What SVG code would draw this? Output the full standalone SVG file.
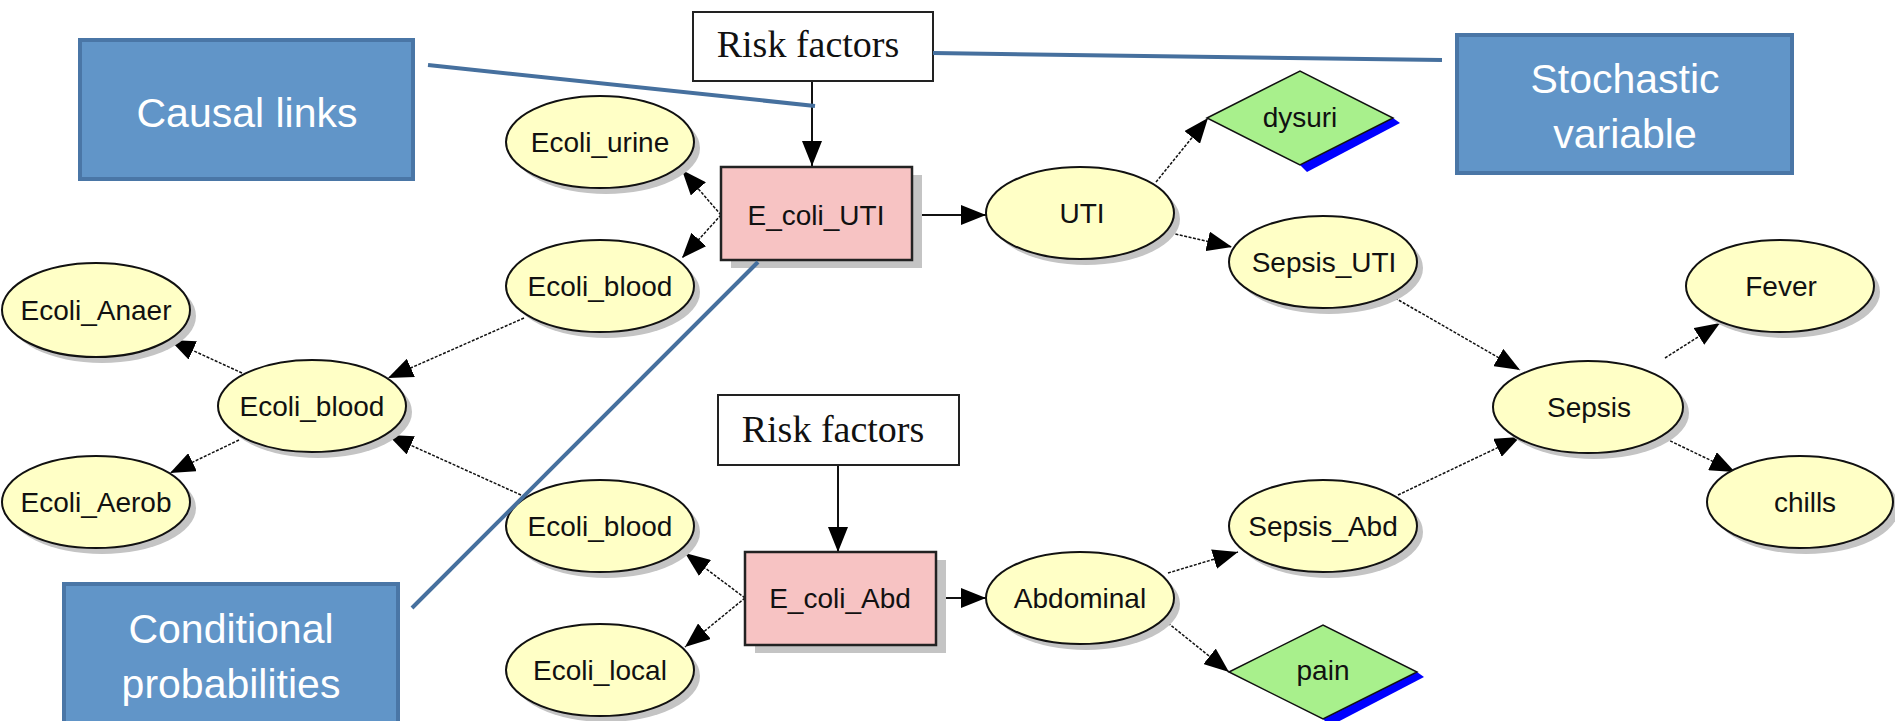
<svg xmlns="http://www.w3.org/2000/svg" width="1895" height="721" viewBox="0 0 1895 721">
<style>
.ell{fill:#ffffc6;stroke:#111;stroke-width:2}
.sh{fill:#c4c4c4}
.box{fill:#f7c3c3;stroke:#222;stroke-width:2.5}
.rf{fill:#fff;stroke:#222;stroke-width:2}
.dia{fill:#a8f08c;stroke:#111;stroke-width:1.5}
.blue{fill:#0000ff}
.lbl{font-family:"Liberation Sans",Arial,sans-serif;font-size:28px;fill:#111;text-anchor:middle}
.ser{font-family:"Liberation Serif","Times New Roman",serif;font-size:38px;fill:#111;text-anchor:middle}
.call{fill:#6195c8;stroke:#4a76a6;stroke-width:4}
.ct{font-family:"Liberation Sans",Arial,sans-serif;font-size:41px;fill:#fff;text-anchor:middle}
.con{fill:none;stroke:#111;stroke-width:1.5;stroke-dasharray:3 1.5;marker-end:url(#ah)}
.solid{fill:none;stroke:#111;stroke-width:2;marker-end:url(#ah)}
.cl{fill:none;stroke:#46709e;stroke-width:4}
</style>
<defs>
<marker id="ah" viewBox="0 0 25 20" refX="25" refY="10" markerWidth="25" markerHeight="20" markerUnits="userSpaceOnUse" orient="auto">
<path d="M0,0 L25,10 L0,20 z" fill="#000"/>
</marker>
</defs>
<rect width="1895" height="721" fill="#fff"/>

<g id="connectors">
<line class="solid" x1="812" y1="81" x2="812" y2="166"/>
<line class="solid" x1="838" y1="465" x2="838" y2="552"/>
<line class="con" x1="721" y1="215" x2="682" y2="170"/>
<line class="con" x1="721" y1="215" x2="682" y2="258"/>
<line class="solid" x1="912" y1="215" x2="986" y2="215"/>
<line class="con" x1="1156" y1="182" x2="1208" y2="118"/>
<line class="con" x1="1171" y1="233" x2="1232" y2="247"/>
<line class="con" x1="1395" y1="298" x2="1520" y2="370"/>
<line class="con" x1="1665" y1="358" x2="1720" y2="323"/>
<line class="con" x1="1662" y1="437" x2="1735" y2="472"/>
<line class="solid" x1="936" y1="598" x2="986" y2="598"/>
<line class="con" x1="1168" y1="573" x2="1238" y2="552"/>
<line class="con" x1="1168" y1="623" x2="1229" y2="672"/>
<line class="con" x1="1398" y1="495" x2="1520" y2="437"/>
<line class="con" x1="745" y1="598" x2="685" y2="553"/>
<line class="con" x1="745" y1="598" x2="685" y2="647"/>
<line class="con" x1="524" y1="318" x2="388" y2="378"/>
<line class="con" x1="521" y1="495" x2="388" y2="435"/>
<line class="con" x1="242" y1="373" x2="170" y2="340"/>
<line class="con" x1="239" y1="440" x2="170" y2="473"/>
</g>

<g id="risk1"><rect class="rf" x="693" y="12" width="240" height="69"/><text class="ser" x="808" y="57">Risk factors</text></g>
<g id="risk2"><rect class="rf" x="718" y="395" width="241" height="70"/><text class="ser" x="833" y="442">Risk factors</text></g>

<g id="E_coli_UTI"><rect class="sh" x="731" y="175" width="191" height="93"/><rect class="box" x="721" y="167" width="191" height="93"/><text class="lbl" x="816" y="225">E_coli_UTI</text></g>
<g id="E_coli_Abd"><rect class="sh" x="755" y="560" width="191" height="93"/><rect class="box" x="745" y="552" width="191" height="93"/><text class="lbl" x="840" y="608">E_coli_Abd</text></g>

<g id="Ecoli_urine"><ellipse class="sh" cx="606" cy="148" rx="94" ry="46"/><ellipse class="ell" cx="600" cy="142" rx="94" ry="46"/><text class="lbl" x="600" y="152">Ecoli_urine</text></g>
<g id="Ecoli_blood_1"><ellipse class="sh" cx="606" cy="292" rx="94" ry="46"/><ellipse class="ell" cx="600" cy="286" rx="94" ry="46"/><text class="lbl" x="600" y="296">Ecoli_blood</text></g>
<g id="Ecoli_Anaer"><ellipse class="sh" cx="102" cy="316" rx="94" ry="47"/><ellipse class="ell" cx="96" cy="310" rx="94" ry="47"/><text class="lbl" x="96" y="320">Ecoli_Anaer</text></g>
<g id="Ecoli_blood_2"><ellipse class="sh" cx="318" cy="412" rx="94" ry="46"/><ellipse class="ell" cx="312" cy="406" rx="94" ry="46"/><text class="lbl" x="312" y="416">Ecoli_blood</text></g>
<g id="Ecoli_Aerob"><ellipse class="sh" cx="102" cy="508" rx="94" ry="46"/><ellipse class="ell" cx="96" cy="502" rx="94" ry="46"/><text class="lbl" x="96" y="512">Ecoli_Aerob</text></g>
<g id="Ecoli_blood_3"><ellipse class="sh" cx="606" cy="532" rx="94" ry="46"/><ellipse class="ell" cx="600" cy="526" rx="94" ry="46"/><text class="lbl" x="600" y="536">Ecoli_blood</text></g>
<g id="Ecoli_local"><ellipse class="sh" cx="606" cy="676" rx="94" ry="46"/><ellipse class="ell" cx="600" cy="670" rx="94" ry="46"/><text class="lbl" x="600" y="680">Ecoli_local</text></g>
<g id="UTI"><ellipse class="sh" cx="1086" cy="219" rx="94" ry="46"/><ellipse class="ell" cx="1080" cy="213" rx="94" ry="46"/><text class="lbl" x="1082" y="223">UTI</text></g>
<g id="Sepsis_UTI"><ellipse class="sh" cx="1329" cy="268" rx="94" ry="46"/><ellipse class="ell" cx="1323" cy="262" rx="94" ry="46"/><text class="lbl" x="1324" y="272">Sepsis_UTI</text></g>
<g id="Fever"><ellipse class="sh" cx="1786" cy="292" rx="94" ry="46"/><ellipse class="ell" cx="1780" cy="286" rx="94" ry="46"/><text class="lbl" x="1781" y="296">Fever</text></g>
<g id="Sepsis"><ellipse class="sh" cx="1594" cy="413" rx="95" ry="46"/><ellipse class="ell" cx="1588" cy="407" rx="95" ry="46"/><text class="lbl" x="1589" y="417">Sepsis</text></g>
<g id="chills"><ellipse class="sh" cx="1806" cy="508" rx="93" ry="46"/><ellipse class="ell" cx="1800" cy="502" rx="93" ry="46"/><text class="lbl" x="1805" y="512">chills</text></g>
<g id="Sepsis_Abd"><ellipse class="sh" cx="1329" cy="532" rx="94" ry="46"/><ellipse class="ell" cx="1323" cy="526" rx="94" ry="46"/><text class="lbl" x="1323" y="536">Sepsis_Abd</text></g>
<g id="Abdominal"><ellipse class="sh" cx="1086" cy="604" rx="94" ry="46"/><ellipse class="ell" cx="1080" cy="598" rx="94" ry="46"/><text class="lbl" x="1080" y="608">Abdominal</text></g>

<g id="dysuri"><polygon class="blue" points="1393,118 1400,123 1307,172 1300,165"/><polygon class="dia" points="1207,118 1300,71 1393,118 1300,165"/><text class="lbl" x="1300" y="127">dysuri</text></g>
<g id="pain"><polygon class="blue" points="1417,672 1424,677 1330,726 1323,719"/><polygon class="dia" points="1229,672 1323,625 1417,672 1323,719"/><text class="lbl" x="1323" y="680">pain</text></g>

<g id="callouts">
<line class="cl" x1="428" y1="65" x2="815" y2="106"/>
<line class="cl" x1="933" y1="53" x2="1442" y2="60"/>
<line class="cl" x1="758" y1="262" x2="412" y2="608"/>
</g>
<g id="causal_links"><rect class="call" x="80" y="40" width="333" height="139"/><text class="ct" x="247" y="127">Causal links</text></g>
<g id="stochastic_variable"><rect class="call" x="1457" y="35" width="335" height="138"/><text class="ct" x="1625" y="93">Stochastic</text><text class="ct" x="1625" y="148">variable</text></g>
<g id="conditional_probabilities"><rect class="call" x="64" y="584" width="334" height="140"/><text class="ct" x="231" y="643">Conditional</text><text class="ct" x="231" y="698">probabilities</text></g>
</svg>
